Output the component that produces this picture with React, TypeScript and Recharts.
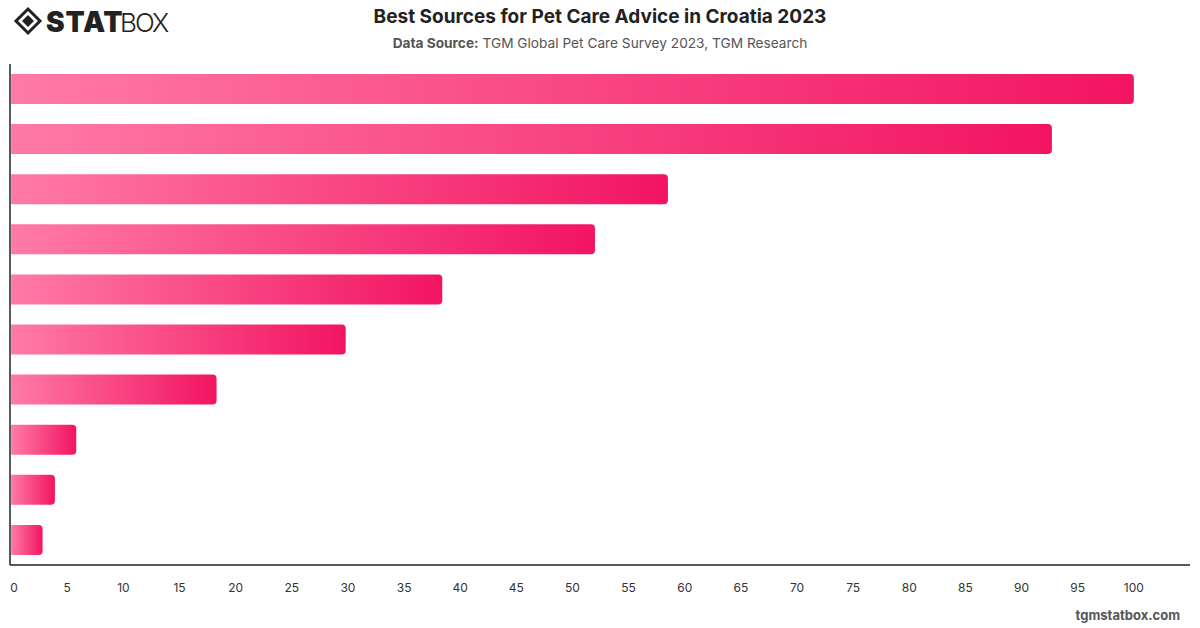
import React from 'react';
import { BarChart, Bar, XAxis, YAxis } from 'recharts';

const categories = ['Source 1', 'Source 2', 'Source 3', 'Source 4', 'Source 5', 'Source 6', 'Source 7', 'Source 8', 'Source 9', 'Source 10'];
const values = [100, 92.7, 58.5, 52.0, 38.4, 29.8, 18.3, 5.8, 3.9, 2.8];
const xTicks = [0, 5, 10, 15, 20, 25, 30, 35, 40, 45, 50, 55, 60, 65, 70, 75, 80, 85, 90, 95, 100];

const data = categories.map((c, i) => ({ name: c, value: values[i] }));

const FONT = 'Inter, "Noto Sans", sans-serif';

const Tick = (props: any) => {
  const { x, y, payload } = props;
  const dx = payload.value === 0 ? 3 : 0;
  return (
    <text x={x + dx} y={y} textAnchor="middle" fill="#333" fontSize={12} fontFamily={FONT} dy="0.71em">
      {payload.value}
    </text>
  );
};

export default function App() {
  return (
    <div style={{ position: 'absolute', left: 0, top: 0, width: 1200, height: 628, background: '#fff', fontFamily: FONT }}>
      <svg width={200} height={50} style={{ position: 'absolute', left: 0, top: 0 }}>
        <g transform="translate(28,21)">
          <path d="M0,-12 L12,0 L0,12 L-12,0 Z" fill="none" stroke="#222" strokeWidth={3} />
          <path d="M0,-6 L6,0 L0,6 L-6,0 Z" fill="#222" />
        </g>
        <text x={46} y={32} fontSize={28} fontWeight={900} fill="#222" fontFamily={FONT} letterSpacing={0.8}>STAT</text>
        <text x={120} y={32} fontSize={26} fontWeight={300} fill="#222" fontFamily={FONT} letterSpacing={-2}>BOX</text>
      </svg>
      <div style={{ position: 'absolute', left: 0, top: 5, width: 1200, textAlign: 'center', fontSize: 19, fontWeight: 700, color: '#222' }}>
        Best Sources for Pet Care Advice in Croatia 2023
      </div>
      <div style={{ position: 'absolute', left: 0, top: 35, width: 1200, textAlign: 'center', fontSize: 13.7, color: '#555' }}>
        <b>Data Source:</b> TGM Global Pet Care Survey 2023, TGM Research
      </div>
      <div style={{ position: 'absolute', right: 20, top: 607, fontSize: 13, fontWeight: 700, color: '#555' }}>
        tgmstatbox.com
      </div>
      <div style={{ position: 'absolute', left: 0, top: 0 }}>
        <BarChart
          width={1200}
          height={628}
          data={data}
          layout="vertical"
          margin={{ top: 64, right: 10, left: 9, bottom: 33 }}
          barCategoryGap="20%"
        >
          <defs>
            <linearGradient id="barGrad" x1="0" y1="0" x2="1" y2="0">
              <stop offset="0%" stopColor="#FF7AA6" />
              <stop offset="100%" stopColor="#F21462" />
            </linearGradient>
          </defs>
          <XAxis
            type="number"
            domain={[-0.1, 105]}
            ticks={xTicks}
            allowDataOverflow
            height={30}
            tickLine={false}
            axisLine={{ stroke: '#222', strokeWidth: 1.5 }}
            tick={<Tick />}
            tickMargin={12}
            interval={0}
          />
          <YAxis
            type="category"
            dataKey="name"
            width={1}
            tick={false}
            tickLine={false}
            axisLine={{ stroke: '#222', strokeWidth: 1.5 }}
          />
          <Bar dataKey="value" fill="url(#barGrad)" radius={[0, 4, 4, 0]} isAnimationActive={false} />
        </BarChart>
      </div>
    </div>
  );
}
